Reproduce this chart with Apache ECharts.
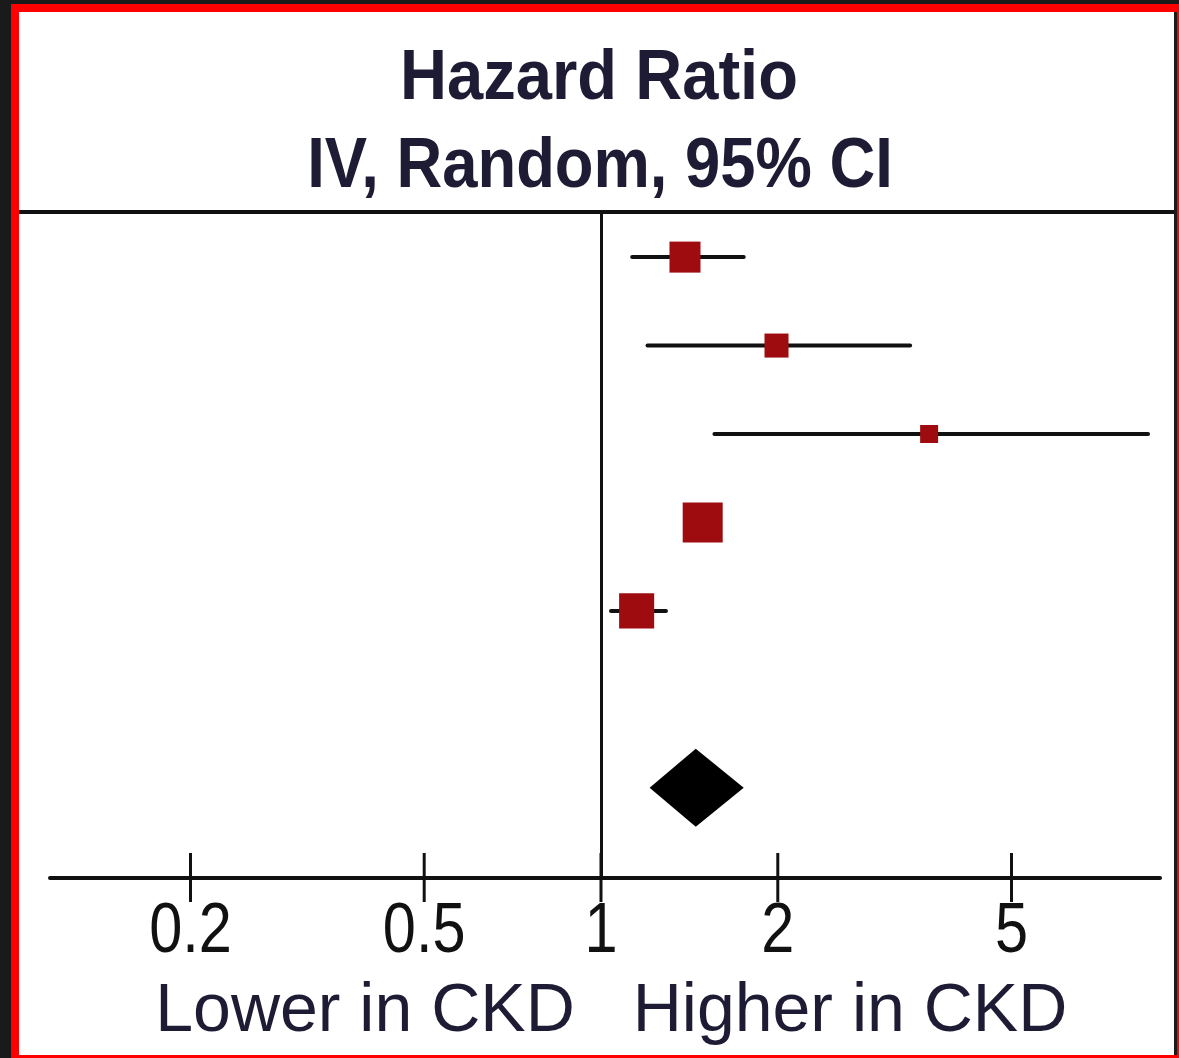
<!DOCTYPE html>
<html>
<head>
<meta charset="utf-8">
<script src="https://cdn.jsdelivr.net/npm/echarts@6/dist/echarts.min.js"></script>
<style>
html,body{margin:0;padding:0;background:#1a1a1a;}
#chart{width:1179px;height:1058px;}
</style>
</head>
<body>
<div id="chart"></div>
<script>
// study rows (top to bottom), hazard ratios and 95% CI
var studyRows = [0, 1, 2, 3, 4];
var hazardRatio = [1.39, 1.99, 3.62, 1.49, 1.15];
var ciLower = [1.13, 1.20, 1.56, 1.42, 1.04];
var ciUpper = [1.75, 3.36, 8.54, 1.55, 1.29];
var weights = [20.5, 12.3, 6.9, 34.1, 26.2];

// pooled estimate: lower, estimate, upper
var pooledRow = 6;
var pooled = [1.21, 1.45, 1.75];

var tickValues = [0.2, 0.5, 1, 2, 5];
var tickLabels = ['0.2', '0.5', '1', '2', '5'];

var FONT = '"Liberation Sans", Arial, sans-serif';
var INK = '#111111';
var TEXT_DARK = '#1e1c34';
var BOX_RED = '#9e0c10';
var rowMin = -0.51;
var rowMax = 7.02;

function renderCI(params, api){
	var a = api.coord([api.value(0), api.value(2)]);
	var b = api.coord([api.value(1), api.value(2)]);
	return {
		type: 'line',
		shape: {x1: a[0], y1: a[1], x2: b[0], y2: b[1]},
		style: {stroke: INK, lineWidth: 4, lineCap: 'round'}
	};
}

function renderDiamond(params, api){
	var row = api.value(3);
	var l = api.coord([api.value(0), row]);
	var c = api.coord([api.value(1), row]);
	var r = api.coord([api.value(2), row]);
	var h = 39;
	return {
		type: 'polygon',
		shape: {points: [[l[0], l[1]], [c[0], c[1] - h], [r[0], r[1]], [c[0], c[1] + h]]},
		style: {fill: '#000'}
	};
}

function renderTick(params, api){
	var p = api.coord([api.value(0), api.value(1)]);
	return {
		type: 'group',
		children: [{
			type: 'line',
			shape: {x1: p[0], y1: p[1] - 25, x2: p[0], y2: p[1] + 24},
			style: {stroke: INK, lineWidth: 3}
		}, {
			type: 'text',
			x: p[0],
			y: p[1] + 55,
			scaleX: 0.85,
			style: {
				text: tickLabels[params.dataIndex],
				fontSize: 70,
				fontFamily: FONT,
				fill: INK,
				align: 'center',
				verticalAlign: 'middle'
			}
		}]
	};
}

var ciData = studyRows.map(function(row, i){ return [ciLower[i], ciUpper[i], row]; });
var boxData = studyRows.map(function(row, i){ return [hazardRatio[i], row]; });
var tickData = tickValues.map(function(v){ return [v, rowMax]; });

var option = {
	backgroundColor: '#1a1a1a',
	animation: false,
	grid: {left: 50, right: 19, top: 212, bottom: 180, containLabel: false},
	xAxis: {
		type: 'log',
		logBase: 10,
		min: 0.1153,
		max: 8.95,
		axisLine: {show: true, onZero: false, lineStyle: {color: INK, width: 4}},
		axisTick: {show: false},
		axisLabel: {show: false},
		splitLine: {show: false}
	},
	yAxis: {
		type: 'value',
		inverse: true,
		min: rowMin,
		max: rowMax,
		show: false
	},
	graphic: [
		{type: 'rect', shape: {x: 11, y: 4, width: 1168, height: 1054}, style: {fill: '#ff0000'}, silent: true},
		{type: 'rect', shape: {x: 19, y: 12, width: 1155, height: 1043}, style: {fill: '#ffffff'}, silent: true},
		{type: 'rect', shape: {x: 1174, y: 12, width: 3, height: 1043}, style: {fill: '#1a1a1a'}, silent: true},
		{type: 'line', shape: {x1: 19, y1: 212, x2: 1174, y2: 212}, style: {stroke: INK, lineWidth: 4}, silent: true},
		{type: 'text', x: 599, y: 80, scaleX: 0.93, style: {text: 'Hazard Ratio', fontSize: 70, fontWeight: 'bold', fontFamily: FONT, fill: TEXT_DARK, align: 'center', verticalAlign: 'middle'}},
		{type: 'text', x: 600, y: 168, scaleX: 0.905, style: {text: 'IV, Random, 95% CI', fontSize: 70, fontWeight: 'bold', fontFamily: FONT, fill: TEXT_DARK, align: 'center', verticalAlign: 'middle'}},
		{type: 'text', x: 365, y: 1012, style: {text: 'Lower in CKD', fontSize: 68, fontFamily: FONT, fill: TEXT_DARK, align: 'center', verticalAlign: 'middle'}},
		{type: 'text', x: 850, y: 1012, style: {text: 'Higher in CKD', fontSize: 68, fontFamily: FONT, fill: TEXT_DARK, align: 'center', verticalAlign: 'middle'}}
	],
	series: [{
		type: 'custom',
		name: 'ci',
		renderItem: renderCI,
		encode: {x: [0, 1], y: 2},
		data: ciData,
		z: 3
	}, {
		type: 'scatter',
		name: 'hr',
		symbol: 'rect',
		symbolSize: function(val, params){ return Math.sqrt(weights[params.dataIndex]) * 6.85; },
		itemStyle: {color: BOX_RED, opacity: 1},
		data: boxData,
		z: 4,
		markLine: {
			silent: true,
			symbol: 'none',
			label: {show: false},
			lineStyle: {color: INK, width: 3, type: 'solid'},
			data: [{xAxis: 1}]
		}
	}, {
		type: 'custom',
		name: 'pooled',
		renderItem: renderDiamond,
		encode: {x: [0, 1, 2], y: 3},
		data: [[pooled[0], pooled[1], pooled[2], pooledRow]],
		z: 4
	}, {
		type: 'custom',
		name: 'ticks',
		renderItem: renderTick,
		encode: {x: 0, y: 1},
		data: tickData,
		clip: false,
		z: 3
	}]
};

var ins = echarts.init(document.getElementById('chart'));
ins.setOption(option);
</script>
</body>
</html>
